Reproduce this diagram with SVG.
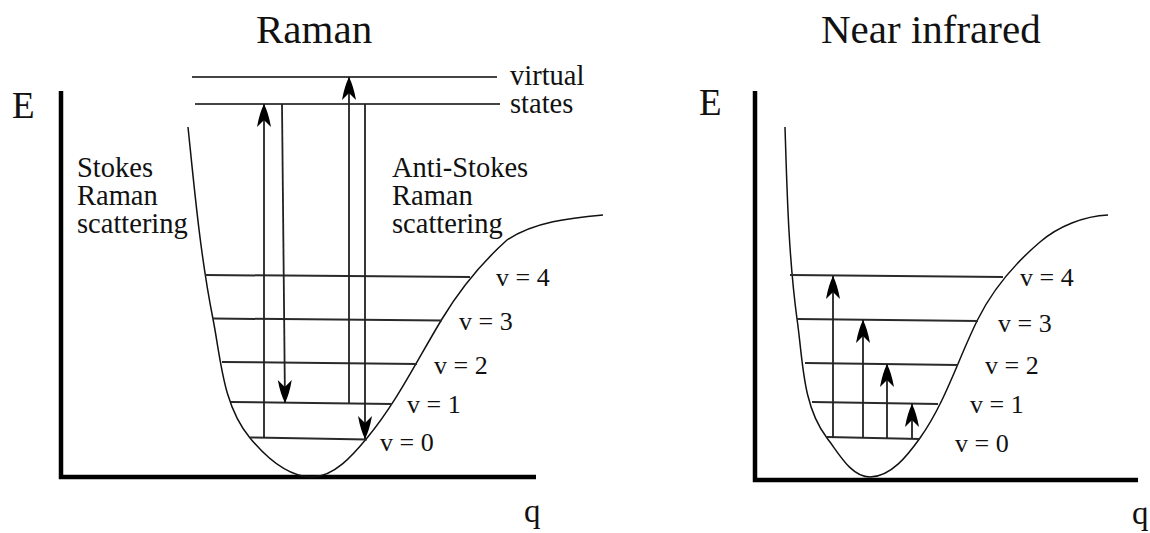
<svg xmlns="http://www.w3.org/2000/svg" width="1150" height="533" viewBox="0 0 1150 533">
<defs>
<style>
text{font-family:"Liberation Serif","Times New Roman",serif;fill:#111}
.title{font-size:41px}
.axl{font-size:37px}
.q{font-size:33px}
.lbl{font-size:28.5px}
.v{font-size:26px}
.axis{stroke:#000;stroke-width:4.5;fill:none}
.curve{stroke:#111;stroke-width:1.5;fill:none}
.lev{stroke:#2a2a2a;stroke-width:2;fill:none}
.virt{stroke:#444;stroke-width:2;fill:none}
.arr{stroke:#222;stroke-width:1.8;fill:none;marker-end:url(#ah)}
</style>
<marker id="ah" viewBox="-25 -9 26 18" refX="0" refY="0" markerWidth="26" markerHeight="18" markerUnits="userSpaceOnUse" orient="auto">
<path d="M0,0 Q-9,4.5 -23,7 L-16,0 L-23,-7 Q-9,-4.5 0,0 Z" fill="#000"/>
</marker>
</defs>
<rect width="1150" height="533" fill="#fff"/>

<g id="raman-panel">
<text class="title" x="256" y="43">Raman</text>
<g id="raman-axes">
<polyline class="axis" points="61,91 61,477 536,477"/>
<text class="axl" x="12" y="118">E</text>
<text class="q" x="524" y="522">q</text>
</g>
<g id="raman-curve">
<path class="curve" d="M188,127 C194.5,190 200.3,255 213,319 C221,360 223,406 250,438 C265.4,456.5 288,477 312,477 C334,477 353,455 367,438 C397,402 417.6,359.2 442,319 C459.6,289.9 481.7,262.7 507,240 C534.4,221.8 570,218 603,215"/>
</g>
<g id="raman-levels">
<line class="lev" x1="205" y1="275" x2="470" y2="277"/>
<line class="lev" x1="213" y1="318.5" x2="442" y2="320.5"/>
<line class="lev" x1="222" y1="362" x2="417" y2="364"/>
<line class="lev" x1="231" y1="402" x2="392" y2="404"/>
<line class="lev" x1="250" y1="437.5" x2="367" y2="439.5"/>
<text class="v" x="496" y="286">v = 4</text>
<text class="v" x="459" y="330">v = 3</text>
<text class="v" x="434" y="374">v = 2</text>
<text class="v" x="407" y="413">v = 1</text>
<text class="v" x="380" y="451">v = 0</text>
</g>
<g id="virtual-states">
<line class="virt" x1="192" y1="77" x2="497" y2="77"/>
<line class="virt" x1="195" y1="104" x2="500" y2="104"/>
<text class="lbl" x="510" y="85">virtual</text>
<text class="lbl" x="510" y="113">states</text>
</g>
<g id="stokes-label">
<text class="lbl" x="77" y="177">Stokes</text>
<text class="lbl" x="77" y="205">Raman</text>
<text class="lbl" x="77" y="233">scattering</text>
</g>
<g id="antistokes-label">
<text class="lbl" x="392" y="177">Anti-Stokes</text>
<text class="lbl" x="392" y="205">Raman</text>
<text class="lbl" x="392" y="233">scattering</text>
</g>
</g>

<g id="nir-panel">
<text class="title" x="821" y="43">Near infrared</text>
<g id="nir-axes">
<polyline class="axis" points="755,91 755,480 1138,480"/>
<text class="axl" x="699" y="115">E</text>
<text class="q" x="1132" y="524">q</text>
</g>
<g id="nir-curve">
<path class="curve" d="M785,127 C787,191 788.5,255.4 797,319 C803,359.5 802,405.6 827,438 C838.6,453 851,477 870,477 C891,477 907.8,455.1 920,438 C945.5,402.2 958.3,358.3 978,319 C992.8,289.5 1014.9,263.4 1040,242 C1058.3,226.4 1084,216 1108,215"/>
</g>
<g id="nir-levels">
<line class="lev" x1="790" y1="275" x2="1003" y2="277"/>
<line class="lev" x1="797" y1="319" x2="978" y2="321"/>
<line class="lev" x1="805" y1="363" x2="958" y2="365"/>
<line class="lev" x1="812" y1="402" x2="938" y2="404"/>
<line class="lev" x1="827" y1="437" x2="920" y2="439"/>
<text class="v" x="1020" y="286">v = 4</text>
<text class="v" x="998" y="332">v = 3</text>
<text class="v" x="985" y="374">v = 2</text>
<text class="v" x="970" y="413">v = 1</text>
<text class="v" x="955" y="452">v = 0</text>
</g>
</g>

<g id="connectors">
<line class="arr" x1="264" y1="438" x2="264" y2="104"/>
<line class="arr" x1="282" y1="104" x2="285" y2="403"/>
<line class="arr" x1="349" y1="403" x2="349" y2="77"/>
<line class="arr" x1="365" y1="104" x2="365" y2="439"/>
<line class="arr" x1="833" y1="438" x2="833" y2="276"/>
<line class="arr" x1="863" y1="438" x2="863" y2="320"/>
<line class="arr" x1="887" y1="438" x2="887" y2="364"/>
<line class="arr" x1="912" y1="438" x2="912" y2="404"/>
</g>
</svg>
